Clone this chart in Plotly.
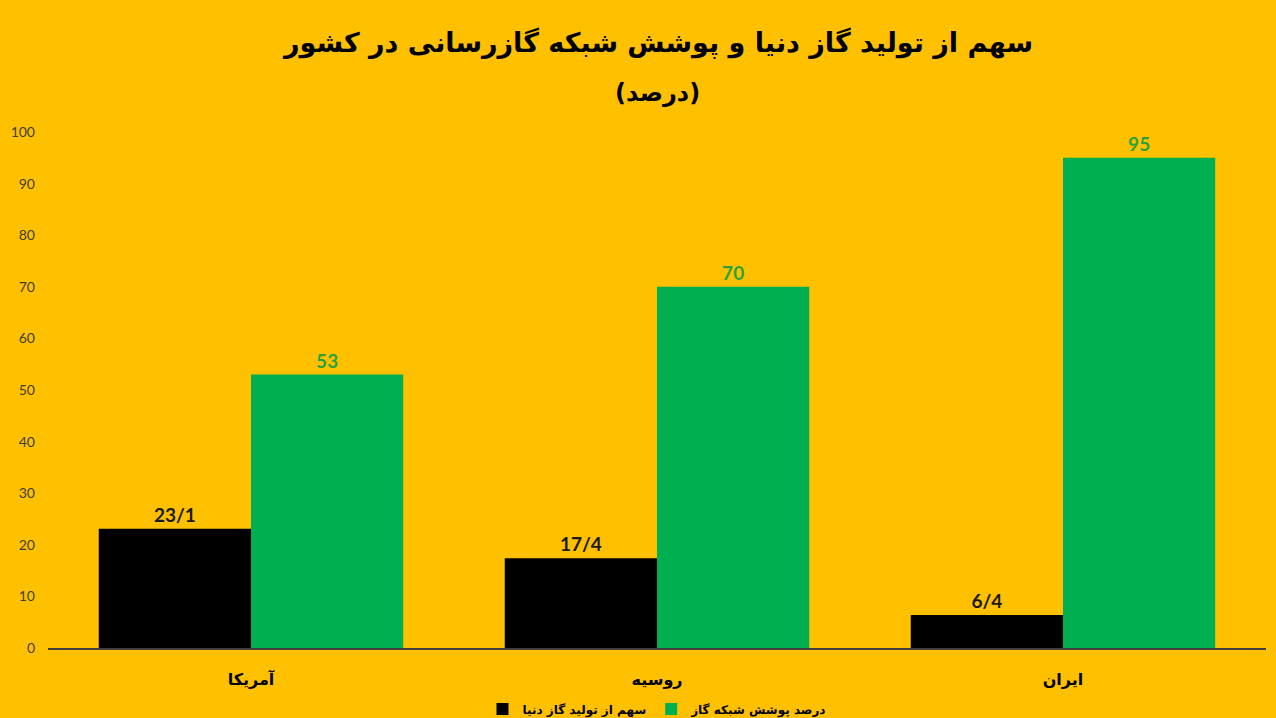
import plotly.graph_objects as go

categories = ["آمریکا", "روسیه", "ایران"]
share_production = [23.1, 17.4, 6.4]
share_labels = ["23/1", "17/4", "6/4"]
coverage = [53, 70, 95]
coverage_labels = ["53", "70", "95"]
series_names = ["سهم از تولید گاز دنیا", "درصد پوشش شبکه گاز"]
y_ticks = [0, 10, 20, 30, 40, 50, 60, 70, 80, 90, 100]

BG = "#FFC000"
GREEN = "#00B050"
PFONT = "DejaVu Sans"

fig = go.Figure()
fig.add_trace(go.Bar(
    x=categories, y=share_production, name=series_names[0],
    marker=dict(color="#000000", line=dict(width=0)),
    text=share_labels, textposition="outside",
    textfont=dict(family="Lato", size=19, color="#1a1a1a", weight="bold"),
    cliponaxis=False,
))
fig.add_trace(go.Bar(
    x=categories, y=coverage, name=series_names[1],
    marker=dict(color=GREEN, line=dict(width=0)),
    text=coverage_labels, textposition="outside",
    textfont=dict(family="Lato", size=19, color="#2ca33a", weight="bold"),
    cliponaxis=False,
))

fig.update_layout(
    width=1276, height=718,
    paper_bgcolor=BG, plot_bgcolor=BG,
    margin=dict(l=48, r=10, t=132, b=70, autoexpand=False),
    barmode="group", bargap=0.25, bargroupgap=0,
    showlegend=True,
    legend=dict(orientation="h", x=0.5, xanchor="center",
                yref="container", y=(718 - 709) / 718, yanchor="middle",
                font=dict(family=PFONT, size=12, color="#000000", weight="bold"),
                bgcolor="rgba(0,0,0,0)", itemwidth=30, traceorder="normal",
                tracegroupgap=0),
    font=dict(family=PFONT),
)
fig.update_yaxes(range=[0, 100], tickvals=y_ticks, showgrid=False, zeroline=False,
                 showline=False, ticks="", ticklabelstandoff=12,
                 tickfont=dict(family="Lato", size=14, color="#404040"))
fig.update_xaxes(showline=True, linecolor="#404040", linewidth=2, ticks="",
                 tickfont=dict(family=PFONT, size=16, color="#000000", weight="bold"),
                 ticklabelstandoff=16)

fig.add_annotation(text="سهم از تولید گاز دنیا و پوشش شبکه گازرسانی در کشور",
                   xref="paper", yref="paper", x=0.5, y=(718 - 43 - 70) / 516,
                   xanchor="center", yanchor="middle", showarrow=False,
                   font=dict(family=PFONT, size=27, color="#000000", weight="bold"))
fig.add_annotation(text="(درصد)",
                   xref="paper", yref="paper", x=0.5, y=(718 - 93 - 70) / 516,
                   xanchor="center", yanchor="middle", showarrow=False,
                   font=dict(family=PFONT, size=24, color="#000000", weight="bold"))

fig.write_html("out.html", config={"displayModeBar": False},
               post_script="document.body.style.margin='0';document.body.style.background='#FFC000';")
